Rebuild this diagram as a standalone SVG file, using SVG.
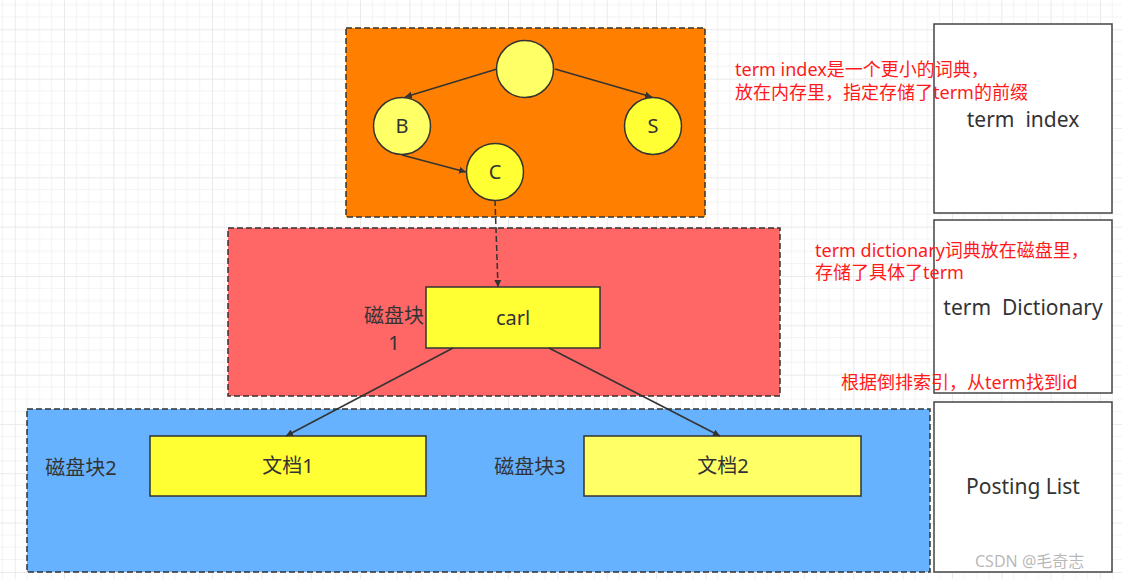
<svg xmlns="http://www.w3.org/2000/svg" width="1122" height="579" viewBox="0 0 1122 579">
<style>
.t{font-family:"Noto Sans","Noto Sans CJK SC",sans-serif;font-size:20px;fill:#333;}
.s{font-size:21px;}
.r{font-family:"Noto Sans","Noto Sans CJK SC",sans-serif;font-size:18px;fill:#ff1a1a;}
.grp{stroke:#333;stroke-width:1.5;stroke-dasharray:6 3;}
.nd{stroke:#333;stroke-width:1.5;}
.side{fill:#fff;stroke:#444;stroke-width:1.5;}
.ln{stroke:#333;stroke-width:1.5;fill:none;marker-end:url(#ah);}
</style>
<defs>
<marker id="ah" viewBox="0 0 10 10" refX="10" refY="5" markerWidth="7" markerHeight="7" orient="auto" markerUnits="userSpaceOnUse">
<path d="M0,0 L10,5 L0,10 z" fill="#333"/>
</marker>
<pattern id="grid" patternUnits="userSpaceOnUse" x="14.7" y="29.3" width="49.33" height="49.33">
<path d="M12.33,0V49.33M24.67,0V49.33M37,0V49.33M0,12.33H49.33M0,24.67H49.33M0,37H49.33" stroke="#f3f3f3" stroke-width="1"/>
<path d="M0.5,0V49.33M0,0.5H49.33" stroke="#eaeaea" stroke-width="1"/>
</pattern>
</defs>
<rect width="1122" height="579" fill="#fff"/>
<rect width="1122" height="579" fill="url(#grid)"/>

<g id="group-index"><rect class="grp" x="346" y="28" width="359" height="189" fill="#ff8000"/></g>
<g id="group-dict"><rect class="grp" x="228" y="228" width="552" height="168" fill="#ff6666"/>
<text class="t" x="394" y="323" text-anchor="middle">磁盘块</text>
<text class="t" x="394" y="350" text-anchor="middle">1</text></g>
<g id="group-posting"><rect class="grp" x="27" y="409" width="903" height="163" fill="#66b2ff"/>
<text class="t" x="81" y="475" text-anchor="middle">磁盘块2</text>
<text class="t" x="530" y="474" text-anchor="middle">磁盘块3</text></g>

<g id="node-root"><circle class="nd" cx="525" cy="69" r="28.5" fill="#ffff66"/></g>
<g id="node-B"><circle class="nd" cx="402" cy="126" r="28.5" fill="#ffff66"/><text class="t" x="402" y="133" text-anchor="middle">B</text></g>
<g id="node-S"><circle class="nd" cx="653" cy="126" r="28.5" fill="#ffff33"/><text class="t" x="653" y="133" text-anchor="middle">S</text></g>
<g id="node-C"><circle class="nd" cx="495" cy="172" r="28.5" fill="#ffff33"/><text class="t" x="495" y="179" text-anchor="middle">C</text></g>
<g id="node-carl"><rect class="nd" x="426" y="287" width="174" height="61" fill="#ffff33"/><text class="t" x="513" y="325" text-anchor="middle">carl</text></g>
<g id="node-doc1"><rect class="nd" x="150" y="436" width="276" height="60" fill="#ffff33"/><text class="t" x="288" y="473" text-anchor="middle">文档1</text></g>
<g id="node-doc2"><rect class="nd" x="584" y="436" width="277" height="60" fill="#ffff66"/><text class="t" x="723" y="473" text-anchor="middle">文档2</text></g>

<g id="side-index"><rect class="side" x="934" y="24" width="178" height="189"/><text class="t s" x="1023" y="127" text-anchor="middle" xml:space="preserve">term  index</text></g>
<g id="side-dict"><rect class="side" x="934" y="220" width="178" height="173"/><text class="t s" x="1023" y="315" text-anchor="middle" xml:space="preserve">term  Dictionary</text></g>
<g id="side-posting"><rect class="side" x="934" y="402" width="178" height="170"/><text class="t s" x="1023" y="494" text-anchor="middle">Posting List</text></g>

<g id="connectors">
<line class="ln" x1="497" y1="69" x2="405" y2="97"/>
<line class="ln" x1="555" y1="69" x2="652" y2="97"/>
<line class="ln" x1="402" y1="155" x2="466" y2="172"/>
<line class="ln" x1="495" y1="200" x2="498" y2="287" stroke-dasharray="6 3"/>
<line class="ln" x1="453" y1="348" x2="286" y2="436"/>
<line class="ln" x1="549" y1="348" x2="720" y2="436"/>
</g>

<g id="notes">
<text class="r" x="735" y="76">term index是一个更小的词典，</text>
<text class="r" x="735" y="99">放在内存里，指定存储了term的前缀</text>
<text class="r" x="815" y="257">term dictionary词典放在磁盘里，</text>
<text class="r" x="815" y="279">存储了具体了term</text>
<text class="r" x="841" y="389">根据倒排索引，从term找到id</text>
</g>
<text x="975" y="567" font-family="'Noto Sans','Noto Sans CJK SC',sans-serif" font-size="16" fill="#999" fill-opacity="0.7">CSDN @毛奇志</text>
</svg>
